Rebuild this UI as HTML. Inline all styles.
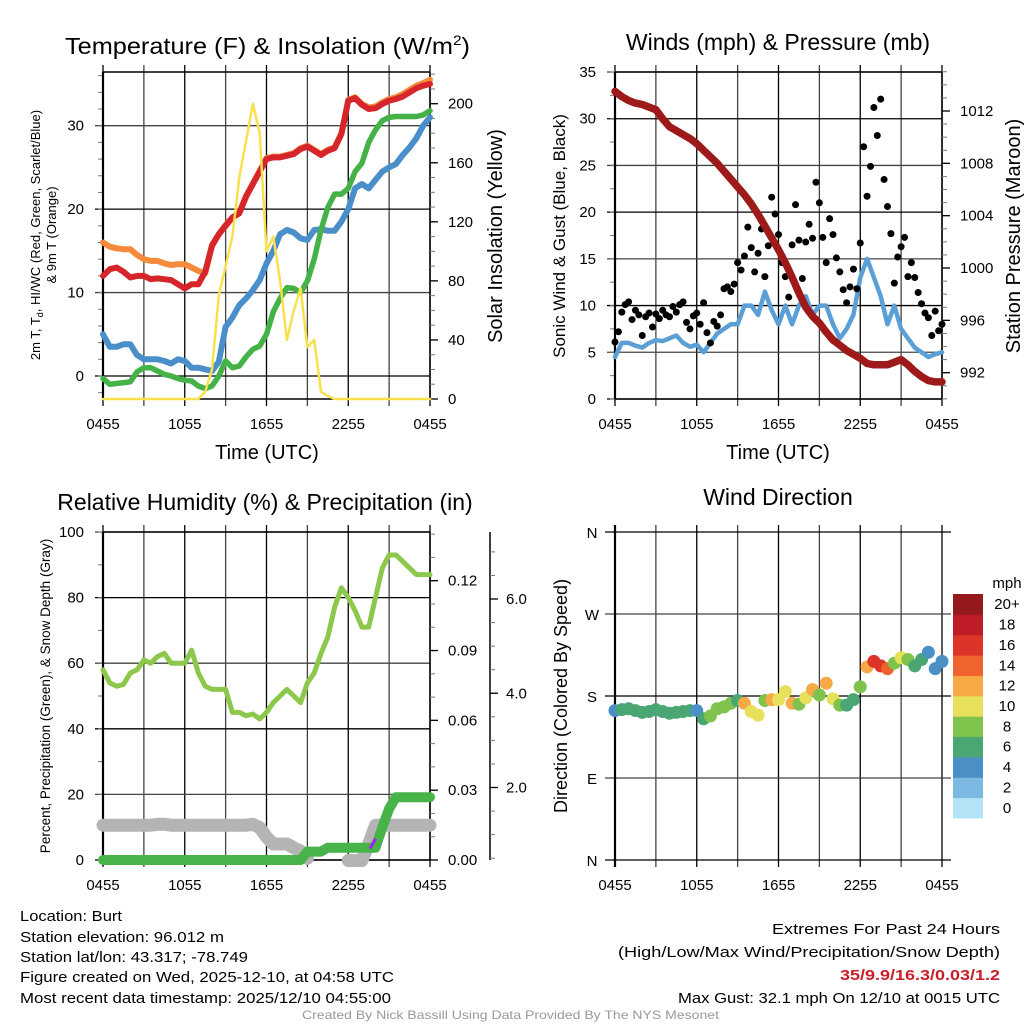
<!DOCTYPE html>
<html><head><meta charset="utf-8">
<style>
html,body{margin:0;padding:0;background:#fff;}
svg{display:block;font-family:"Liberation Sans",sans-serif;}
</style></head>
<body>
<svg id="fig" width="1024" height="1024" viewBox="0 0 1024 1024" xmlns="http://www.w3.org/2000/svg">
<rect width="1024" height="1024" fill="#fff"/>
<g id="p1"></g>
<g id="p2"></g>
<g id="p3"></g>
<g id="p4"></g>

<text x="65" y="54" font-size="23" textLength="405" lengthAdjust="spacingAndGlyphs">Temperature (F) &amp; Insolation (W/m<tspan font-size="14" dy="-9">2</tspan><tspan dy="9">)</tspan></text>
<text x="778" y="50" font-size="23" text-anchor="middle">Winds (mph) &amp; Pressure (mb)</text>
<text x="265" y="510" font-size="23" text-anchor="middle">Relative Humidity (%) &amp; Precipitation (in)</text>
<text x="778" y="505" font-size="23" text-anchor="middle">Wind Direction</text>

<text x="267" y="459" font-size="20" text-anchor="middle">Time (UTC)</text>
<text x="778" y="459" font-size="20" text-anchor="middle">Time (UTC)</text>

<text font-size="13" text-anchor="middle" transform="translate(40,235) rotate(-90)">2m T, T<tspan font-size="9" dy="3">d</tspan><tspan dy="-3">, HI/WC (Red, Green, Scarlet/Blue)</tspan></text>
<text font-size="13" text-anchor="middle" transform="translate(56,235) rotate(-90)">&amp; 9m T (Orange)</text>
<text font-size="20" text-anchor="middle" transform="translate(502,236) rotate(-90)">Solar Insolation (Yellow)</text>
<text font-size="17" text-anchor="middle" transform="translate(565,236) rotate(-90)">Sonic Wind &amp; Gust (Blue, Black)</text>
<text font-size="20" text-anchor="middle" transform="translate(1020,236) rotate(-90)">Station Pressure (Maroon)</text>
<text font-size="13.5" text-anchor="middle" transform="translate(50,696) rotate(-90)">Percent, Precipitation (Green), &amp; Snow Depth (Gray)</text>
<text font-size="18" text-anchor="middle" transform="translate(567,696) rotate(-90)">Direction (Colored By Speed)</text>

<g font-size="15">
<text x="20" y="921" textLength="102" lengthAdjust="spacingAndGlyphs">Location: Burt</text>
<text x="20" y="942" textLength="204" lengthAdjust="spacingAndGlyphs">Station elevation: 96.012 m</text>
<text x="20" y="962" textLength="228" lengthAdjust="spacingAndGlyphs">Station lat/lon: 43.317; -78.749</text>
<text x="20" y="982" textLength="374" lengthAdjust="spacingAndGlyphs">Figure created on Wed, 2025-12-10, at 04:58 UTC</text>
<text x="20" y="1003" textLength="371" lengthAdjust="spacingAndGlyphs">Most recent data timestamp: 2025/12/10 04:55:00</text>
</g>
<g font-size="15">
<text x="772" y="934" textLength="228" lengthAdjust="spacingAndGlyphs">Extremes For Past 24 Hours</text>
<text x="618" y="957" textLength="382" lengthAdjust="spacingAndGlyphs">(High/Low/Max Wind/Precipitation/Snow Depth)</text>
<text x="840" y="980" fill="#c8202a" font-weight="bold" textLength="160" lengthAdjust="spacingAndGlyphs">35/9.9/16.3/0.03/1.2</text>
<text x="678" y="1003" textLength="322" lengthAdjust="spacingAndGlyphs">Max Gust: 32.1 mph On 12/10 at 0015 UTC</text>
</g>
<text x="302" y="1019" font-size="12" fill="#999" textLength="417" lengthAdjust="spacingAndGlyphs">Created By Nick Bassill Using Data Provided By The NYS Mesonet</text>
</svg>
<script>
// ---- data (hours since 0455 UTC, 0.5h steps) ----
const xTickLabels = ["0455","1055","1655","2255","0455"];
const tempRed = [12,12.8,13,12.5,11.8,12,12,11.6,11.7,11.6,11.5,11,10.5,11,11,12.5,15.6,17,18,19,19.5,21.5,23,24.5,26,26.2,26.2,26.4,26.6,27.2,27.5,27,26.5,27,27.3,29,33,33.3,32.5,32,32.1,32.6,33,33.2,33.5,34,34.5,34.8,35];
const tempOrange = [16,15.5,15.3,15.2,15.2,14.5,14,13.8,13.8,13.5,13.3,13.4,13.4,13,12.6,12.3,15.7,17,18.1,19,19.6,21.6,23.1,24.6,26.1,26.3,26.3,26.5,26.7,27.3,27.6,27.1,26.6,27.1,27.4,29.1,33.1,33.4,32.6,32.2,32.3,32.8,33.2,33.4,33.8,34.3,34.8,35.1,35.5];
const tempBlue = [5,3.5,3.5,3.8,3.8,2.5,2,2,2,1.8,1.5,2,1.8,1,1,0.8,0.6,1.7,5.9,7,8.5,9.3,10.3,11.5,13.5,15,17,17.5,17.2,16.5,16.3,17.5,17.6,17.4,17.4,18.5,20,22.5,23,22.5,23.5,24.5,25,25.4,26.5,27.4,28.5,30,31];
const tempGreen = [-0.3,-1,-0.9,-0.8,-0.7,0.5,1,1,0.6,0.2,0,-0.3,-0.5,-0.6,-1.2,-1.5,-1.2,0,1.8,1,1.2,2.3,3.2,3.6,5,7.7,9.3,10.6,10.5,10,11.4,14,17.5,20.2,21.8,21.8,22.5,24.5,25.5,28,29.5,30.6,31,31.1,31.1,31.1,31.1,31.3,31.8];
const insolation = [0,0,0,0,0,0,0,0,0,0,0,0,0,0,0,5,20,70,90,110,150,175,200,180,100,110,80,40,60,75,35,40,5,2,0,0,0,0,0,0,0,0,0,0,0,0,0,0,0];
const tempTicks = [0,10,20,30];
const insolTicks = [0,40,80,120,160,200];

const windSpeed = [4.5,6,6,5.7,5.5,6,6.3,6.2,6.5,6.8,6,5.6,5.8,5,6,7,7.5,8,8,10,10,9,11.5,9.5,8,10,8,10,11,9,10,10,8,6.5,7.5,9,13,15,13,11,8,10,7.5,6.5,5.5,5,4.5,4.8,5];
const gusts = [6.1,7.2,9.3,10.1,10.4,8.5,9.5,9.0,6.8,8.8,9.2,7.7,9.1,8.6,9.5,9.0,8.8,9.9,9.3,10.1,10.4,8.2,7.5,8.9,9.2,8.0,10.3,7.1,6.0,8.3,7.8,9.0,11.8,12.0,11.5,12.3,14.6,13.8,15.3,18.4,16.2,13.6,15.6,18.2,13.1,16.4,21.6,19.8,17.6,14.6,13.1,10.9,16.5,20.8,17.0,12.9,16.8,18.7,17.2,23.2,21.0,17.3,14.6,19.3,17.6,15.1,13.6,11.7,10.3,12.0,13.9,11.8,16.7,27.0,21.7,24.9,31.2,28.2,32.1,23.5,20.6,17.7,12.4,15.2,16.3,17.3,13.1,14.6,13.0,11.4,10.2,9.2,8.7,6.8,9.4,7.3,8.0];
const pressure = [1013.5,1013.1,1012.8,1012.6,1012.5,1012.3,1012.1,1011.4,1010.8,1010.5,1010.2,1009.9,1009.5,1009.0,1008.5,1008.0,1007.4,1006.8,1006.2,1005.6,1004.9,1004.1,1003.2,1002.3,1001.4,1000.4,999.3,998.1,997,996.3,995.8,995.1,994.5,994.1,993.7,993.4,993.1,992.7,992.6,992.6,992.6,992.8,993,992.6,992.1,991.7,991.4,991.3,991.3];
const windTicks = [0,5,10,15,20,25,30,35];
const pressureTicks = [992,996,1000,1004,1008,1012];

const rh = [58,54,53,53.5,57,58,61,60,62,63,60,60,60,64,57,53,52,52,52,45,45,44,44.5,43,45,48,50,52,50,48,54,57,63,68,77,83,80,76,71,71,80,89,93,93,91,89,87,87,87];
const precip = [0,0,0,0,0,0,0,0,0,0,0,0,0,0,0,0,0,0,0,0,0,0,0,0,0,0,0,0,0,0,0.0036,0.0036,0.0036,0.0053,0.0053,0.0053,0.0053,0.0053,0.0053,0.0053,0.0053,0.014,0.022,0.027,0.027,0.027,0.027,0.027,0.027];
const snowDepth = [1.2,1.2,1.2,1.2,1.2,1.2,1.2,1.2,1.22,1.22,1.2,1.2,1.2,1.2,1.2,1.2,1.2,1.2,1.2,1.2,1.2,1.2,1.22,1.15,0.95,0.8,0.8,0.8,0.72,0.65,0.5,null,null,null,null,null,0.45,0.45,0.45,0.8,1.2,1.2,1.2,1.2,1.2,1.2,1.2,1.2,1.2];
const rhTicks = [0,20,40,60,80,100];
const precipTicks = [0.00,0.03,0.06,0.09,0.12];
const snowTicks = [2.0,4.0,6.0];

const direction = [164,165,166,164,162,163,165,163,161,162,163,164,164,155,158,166,168,172,175,172,163,159,175,176,176,185,172,171,178,187,181,194,177,170,170,176,190,212,218,213,210,216,222,220,213,220,228,210,218];
const dirSpeed = [4,6,6,6,6,6,6,6,6,6,6,6,4,6,8,8,8,8,6,12,10,10,8,12,10,10,12,8,10,12,8,12,10,8,6,6,8,12,16,16,14,8,10,8,6,6,4,4,4];
const dirTickLabels = ["N","E","S","W","N"];
const cbLabels = ["0","2","4","6","8","10","12","14","16","18","20+"];
const cbColors = ["#b3e3f6","#7dbae3","#4a90c7","#4aa672","#7dc34c","#e7e05b","#f6a945","#f0632e","#dd3429","#be1c27","#941a1d"];

// ---- helpers ----
const NS="http://www.w3.org/2000/svg";
function mk(parent,tag,attrs){const e=document.createElementNS(NS,tag);for(const k in attrs)e.setAttribute(k,attrs[k]);parent.appendChild(e);return e;}
function xScale(x0,x1){return h=>x0+(x1-x0)*h/24;}
function lin(d0,d1,r0,r1){return v=>r0+(v-d0)*(r1-r0)/(d1-d0);}
const hours = tempRed.map((_,i)=>i*0.5);
const gustHours = gusts.map((_,i)=>i*0.25);

function frame(g,x0,x1,y0,y1,yTicks,ys,yLabels,minorStep,yDomainMin,yDomainMax){
  for(let i=0;i<=8;i++){
    const x=x0+(x1-x0)*i/8;
    const l=mk(g,'line',{x1:x,y1:y0-7,x2:x,y2:y1+7,stroke:i%2?'#444':'#000','stroke-width':1.3});
    
    
  }
  yTicks.forEach((t,i)=>{
    const y=ys(t);
    const l=mk(g,'line',{x1:x0-8,y1:y,x2:x1,y2:y,stroke:i%2?'#444':'#000','stroke-width':1.3});
    
    
    const tx=mk(g,'text',{x:x0-19,y:y+5,'font-size':15,'text-anchor':'end'});
    tx.textContent=yLabels[i];
    
    
  });
  if(minorStep){
    for(let v=Math.ceil(yDomainMin/minorStep)*minorStep;v<=yDomainMax;v+=minorStep){
      const y=ys(v);
      mk(g,'line',{x1:x0-5,y1:y,x2:x0,y2:y,stroke:'#777','stroke-width':1});
    }
  }
  mk(g,'line',{x1:x0,y1:y0,x2:x0,y2:y1,stroke:'#000','stroke-width':2.2});
  mk(g,'line',{x1:x0,y1:y0,x2:x1,y2:y0,stroke:'#000','stroke-width':1.5});
  mk(g,'line',{x1:x0,y1:y1,x2:x1,y2:y1,stroke:'#000','stroke-width':1.5});
  mk(g,'line',{x1:x1,y1:y0,x2:x1,y2:y1,stroke:'#000','stroke-width':1.5});
  xTickLabels.forEach((lab,i)=>{
    const tx=mk(g,'text',{x:x0+(x1-x0)*i/4,y:y1+30,'font-size':15,'text-anchor':'middle'});
    tx.textContent=lab;
    
    
  });
}
function rightAxis(g,x,y0,y1,ticks,ys,labels,minorStep,dmin,dmax,lineToo,off){
  off=off||0;
  if(lineToo) mk(g,'line',{x1:x,y1:y0,x2:x,y2:y1,stroke:'#000','stroke-width':1.5});
  if(minorStep){
    for(let v=Math.ceil(dmin/minorStep-1e-9)*minorStep;v<=dmax+1e-9;v+=minorStep){
      const y=ys(v); if(y<y0-0.5||y>y1+0.5) continue;
      mk(g,'line',{x1:x,y1:y,x2:x+5,y2:y,stroke:'#777','stroke-width':1});
    }
  }
  ticks.forEach((t,i)=>{
    const y=ys(t);
    mk(g,'line',{x1:x,y1:y,x2:x+8,y2:y,stroke:'#000','stroke-width':1.3});
    const tx=mk(g,'text',{x:x+18+off,y:y+5,'font-size':15});
    tx.textContent=labels[i];
    
    
  });
}
function path(g,xs,ys,hs,vals,color,w,name){
  let d='',pen=false;
  vals.forEach((v,i)=>{
    if(v===null){pen=false;return;}
    d+=(pen?'L':'M')+xs(hs[i]).toFixed(1)+','+ys(v).toFixed(1);pen=true;
  });
  const p=mk(g,'path',{d:d,fill:'none',stroke:color,'stroke-width':w,'stroke-linejoin':'round','stroke-linecap':'round'});
  
  
  return p;
}

// ---- panel 1: temperature ----
(function(){
  const g=document.getElementById('p1');
  const x0=103,x1=430,y0=72,y1=399;
  const xs=xScale(x0,x1);
  const ys=lin(0,30,376,125.7);
  const yr=lin(0,200,399,103.7);
  frame(g,x0,x1,y0,y1,tempTicks,ys,tempTicks.map(String),2,-2.7,36.4);
  rightAxis(g,x1,y0,y1,insolTicks,yr,insolTicks.map(String),10,0,220,false);
  path(g,xs,ys,hours,tempOrange,'#f58a3a',6,'nine-meter-temp-line');
  path(g,xs,ys,hours,tempRed,'#d7262b',6,'two-meter-temp-line');
  path(g,xs,ys,hours,tempBlue,'#4a8fca',6,'wind-chill-line');
  path(g,xs,ys,hours,tempGreen,'#44b246',5.5,'dewpoint-line');
  path(g,xs,yr,hours,insolation,'#f8e04e',2.5,'insolation-line');
})();

// ---- panel 2: winds ----
(function(){
  const g=document.getElementById('p2');
  const x0=615,x1=942,y0=72,y1=399;
  const xs=xScale(x0,x1);
  const ys=lin(0,35,399,72);
  const yp=lin(992,1012,372.7,111);
  frame(g,x0,x1,y0,y1,windTicks,ys,windTicks.map(String),2.5,0,35);
  rightAxis(g,x1,y0,y1,pressureTicks,yp,pressureTicks.map(String),1,990,1015,false);
  path(g,xs,ys,hours,windSpeed,'#5a9fd6',4.5,'sonic-wind-line');
  gusts.forEach((v,i)=>{
    const c=mk(g,'circle',{cx:xs(gustHours[i]),cy:ys(v),r:3.5,fill:'#000'});
    
    
  });
  path(g,xs,yp,hours,pressure,'#9e1a1a',7.5,'pressure-line');
})();

// ---- panel 3: humidity ----
(function(){
  const g=document.getElementById('p3');
  const x0=103,x1=430,y0=532,y1=860;
  const xs=xScale(x0,x1);
  const ys=lin(0,100,860,532);
  const yp=lin(0,0.12,860,580.7);
  const ysn=lin(2,6,787.5,599);
  frame(g,x0,x1,y0,y1,rhTicks,ys,rhTicks.map(String),10,0,100);
  rightAxis(g,x1,y0,y1,precipTicks,yp,precipTicks.map(v=>v.toFixed(2)),0.01,0,0.14,false);
  rightAxis(g,490,y0,y1,snowTicks,ysn,snowTicks.map(v=>v.toFixed(1)),0.5,0.5,7,true,-2);
  path(g,xs,ysn,hours,snowDepth,'#b4b4b4',13,'snow-depth-line');
  path(g,xs,ys,hours,rh,'#8cc84b',5,'relative-humidity-line');
  path(g,xs,yp,hours,precip,'#47b348',10,'precipitation-line');
  const pv=mk(g,'line',{x1:xs(19.6),y1:ys(3.5),x2:xs(20),y2:ys(6.5),stroke:'#a020f0','stroke-width':3});
  
  
})();

// ---- panel 4: direction ----
(function(){
  const g=document.getElementById('p4');
  const x0=615,x1=942,y0=532,y1=860;
  const xs=xScale(x0,x1);
  const ys=lin(0,360,860,532);
  const dirTicks=[0,90,180,270,360];
  for(let i=0;i<=8;i++){
    const x=x0+(x1-x0)*i/8;
    const l=mk(g,'line',{x1:x,y1:y0-7,x2:x,y2:y1+7,stroke:i%2?'#444':'#000','stroke-width':1.3});
    
    
  }
  dirTicks.forEach((t,i)=>{
    const y=ys(t);
    const l=mk(g,'line',{x1:x0-10,y1:y,x2:x1+9,y2:y,stroke:i%2?'#444':'#000','stroke-width':1.3});
    
    
    const tx=mk(g,'text',{x:x0-23,y:y+6,'font-size':15,'text-anchor':'middle'});
    tx.textContent=dirTickLabels[i];
    
    
  });
  mk(g,'line',{x1:x0,y1:y0-7,x2:x0,y2:y1+7,stroke:'#000','stroke-width':2.2});
  xTickLabels.forEach((lab,i)=>{
    const tx=mk(g,'text',{x:x0+(x1-x0)*i/4,y:y1+30,'font-size':15,'text-anchor':'middle'});
    tx.textContent=lab;
    
    
  });
  direction.forEach((v,i)=>{
    const idx=Math.max(0,Math.min(10,Math.floor(dirSpeed[i]/2)));
    const c=mk(g,'circle',{cx:xs(hours[i]),cy:ys(v),r:6.5,fill:cbColors[idx]});
    
    
  });
  const cbTop=594,cbBot=818,n=cbColors.length,h=(cbBot-cbTop)/n;
  cbColors.forEach((col,i)=>{
    const y=cbBot-(i+1)*h;
    const r=mk(g,'rect',{x:953,y:y,width:30,height:h+0.5,fill:col});
    
    
    const tx=mk(g,'text',{x:1007,y:y+h/2+5,'font-size':15,'text-anchor':'middle'});
    tx.textContent=cbLabels[i];
    
    
  });
  const u=mk(g,'text',{x:1007,y:588,'font-size':15,'text-anchor':'middle'});
  u.textContent='mph';
  
  
})();
</script>
</body></html>
